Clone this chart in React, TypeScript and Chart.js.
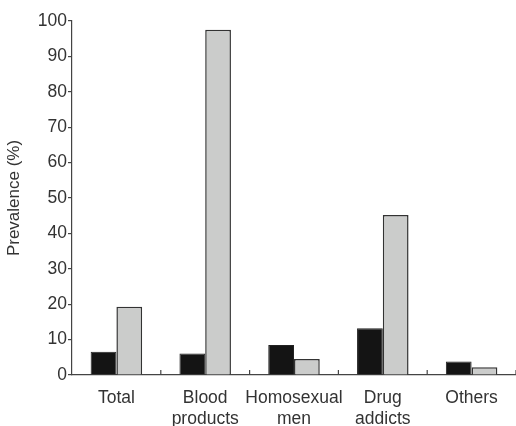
import React, { useEffect, useRef } from "react";
import { Chart, registerables } from "chart.js";

Chart.register(...registerables);

const categories: string[][] = [
  ["Total"],
  ["Blood", "products"],
  ["Homosexual", "men"],
  ["Drug", "addicts"],
  ["Others"],
];
const seriesBlack: number[] = [6.6, 6.1, 8.5, 13.2, 3.8];
const seriesGray: number[] = [19.3, 97.5, 4.5, 45.2, 2.2];
const yTicks: number[] = [0, 10, 20, 30, 40, 50, 60, 70, 80, 90, 100];

const FONT = "'Liberation Sans', Arial, sans-serif";
const AXIS = "#444";

const innerTicks = {
  id: "innerTicks",
  afterDatasetsDraw(chart: any) {
    const x = chart.scales.x;
    const ctx = chart.ctx;
    const n = chart.data.labels.length;
    const half = (x.getPixelForValue(1) - x.getPixelForValue(0)) / 2;
    const bottom = chart.chartArea.bottom;
    ctx.save();
    ctx.strokeStyle = AXIS;
    ctx.lineWidth = 1.2;
    for (let i = 1; i <= n; i++) {
      const px = x.getPixelForValue(i - 1) + half;
      ctx.beginPath();
      ctx.moveTo(px, bottom);
      ctx.lineTo(px, bottom - 5);
      ctx.stroke();
    }
    ctx.restore();
  },
};

export default function App() {
  const ref = useRef<HTMLCanvasElement>(null);
  useEffect(() => {
    document.body.style.margin = "0";
    const chart = new Chart(ref.current!, {
      type: "bar",
      data: {
        labels: categories as any,
        datasets: [
          {
            data: seriesBlack,
            backgroundColor: "#141414",
            borderColor: "#222",
            borderWidth: 1,
            categoryPercentage: 0.58,
            barPercentage: 1,
          },
          {
            data: seriesGray,
            backgroundColor: "#cbcccb",
            borderColor: "#333",
            borderWidth: 1.5,
            categoryPercentage: 0.58,
            barPercentage: 1,
          },
        ],
      },
      options: {
        animation: false,
        responsive: false,
        maintainAspectRatio: false,
        layout: { padding: { top: 21, right: 0, left: 0, bottom: 0 } },
        plugins: { legend: { display: false }, tooltip: { enabled: false } },
        scales: {
          x: {
            grid: { display: true, drawOnChartArea: false, drawTicks: false },
            border: { display: true, color: AXIS, width: 1.2 },
            ticks: {
              color: "#333",
              font: { family: FONT, size: 17.5, lineHeight: 1.18 },
              padding: 13,
              maxRotation: 0,
              autoSkip: false,
            },
            afterFit: (s: any) => {
              s.height = 51;
            },
          },
          y: {
            min: 0,
            max: 100,
            afterBuildTicks: (s: any) => {
              s.ticks = yTicks.map((v) => ({ value: v }));
            },
            grid: {
              display: true,
              drawOnChartArea: false,
              drawTicks: true,
              tickLength: 4,
              color: AXIS,
              lineWidth: 1.2,
            },
            border: { display: true, color: AXIS, width: 1.2 },
            ticks: {
              color: "#333",
              font: { family: FONT, size: 17.5 },
              padding: 1,
            },
            title: {
              display: true,
              text: "Prevalence (%)",
              color: "#333",
              font: { family: FONT, size: 17 },
              padding: { top: 4, bottom: 0 },
            },
            afterFit: (s: any) => {
              s.width = 72;
            },
          },
        },
      },
      plugins: [innerTicks],
    });
    return () => chart.destroy();
  }, []);
  return <canvas ref={ref} width={516} height={426} style={{ display: "block" }} />;
}
